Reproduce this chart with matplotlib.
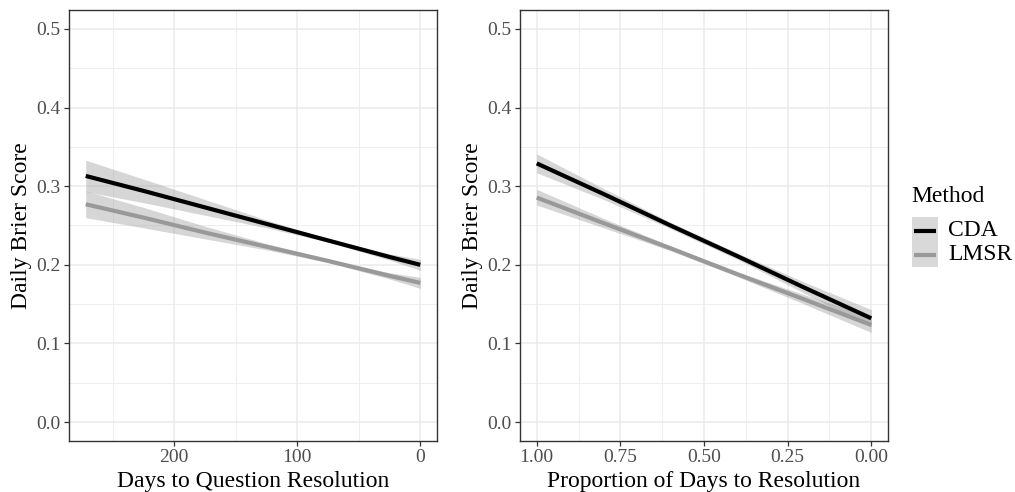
import numpy as np
import matplotlib.pyplot as plt
from matplotlib.patches import Rectangle
from matplotlib.lines import Line2D
from matplotlib.ticker import MultipleLocator

plt.rcParams['font.family'] = ['Liberation Serif', 'DejaVu Serif']

# Panel 1: days to resolution
days = [272, 225, 175, 125, 75, 25, 0]
cda_days_fit = [0.313, 0.294, 0.273, 0.252, 0.231, 0.210, 0.200]
cda_days_hi = [0.333, 0.309, 0.283, 0.257, 0.233, 0.214, 0.207]
cda_days_lo = [0.293, 0.279, 0.263, 0.247, 0.229, 0.206, 0.193]
lmsr_days_fit = [0.277, 0.260, 0.241, 0.223, 0.205, 0.186, 0.177]
lmsr_days_hi = [0.294, 0.273, 0.249, 0.227, 0.207, 0.190, 0.184]
lmsr_days_lo = [0.260, 0.247, 0.233, 0.219, 0.203, 0.182, 0.170]

# Panel 2: proportion of days
prop = [1.0, 0.8, 0.6, 0.4, 0.2, 0.0]
cda_prop_fit = [0.329, 0.290, 0.250, 0.211, 0.171, 0.132]
cda_prop_hi = [0.341, 0.297, 0.254, 0.215, 0.178, 0.143]
cda_prop_lo = [0.317, 0.283, 0.246, 0.207, 0.164, 0.121]
lmsr_prop_fit = [0.2855, 0.253, 0.221, 0.188, 0.156, 0.1235]
lmsr_prop_hi = [0.296, 0.259, 0.224, 0.191, 0.162, 0.134]
lmsr_prop_lo = [0.276, 0.247, 0.218, 0.185, 0.150, 0.114]

methods = ['CDA', 'LMSR']
line_cols = ['black', '#999999']
ribbon_col = '0.6'

W, H = 1015, 492
fig = plt.figure(figsize=(W / 100, H / 100), dpi=100)
ax1 = fig.add_axes([69/W, 51/H, 368/W, 431/H])
ax2 = fig.add_axes([520/W, 51/H, 368/W, 431/H])


def style(ax):
    ax.set_ylim(-0.024, 0.524)
    ax.yaxis.set_major_locator(MultipleLocator(0.1))
    ax.yaxis.set_minor_locator(MultipleLocator(0.05))
    ax.grid(which='major', color='#ebebeb', lw=1.1, zorder=0)
    ax.grid(which='minor', color='#ebebeb', lw=0.6, zorder=0)
    ax.set_axisbelow(True)
    for s in ax.spines.values():
        s.set_color('#333333')
        s.set_linewidth(1.0)
    ax.tick_params(which='major', length=3.5, width=0.9, color='#333333',
                   labelsize=14, labelcolor='#4d4d4d', pad=2.5)
    ax.tick_params(which='minor', length=0)
    ax.yaxis.set_major_formatter(lambda v, p: f'{v:.1f}')
    ax.set_ylabel('Daily Brier Score', fontsize=17, labelpad=3)


# left panel
ax1.fill_between(days, cda_days_lo, cda_days_hi, color=ribbon_col, alpha=0.4, lw=0, zorder=2)
ax1.fill_between(days, lmsr_days_lo, lmsr_days_hi, color=ribbon_col, alpha=0.4, lw=0, zorder=2)
ax1.plot(days, cda_days_fit, color=line_cols[0], lw=3.0, zorder=3, solid_capstyle='butt')
ax1.plot(days, lmsr_days_fit, color=line_cols[1], lw=3.0, zorder=3, solid_capstyle='butt')
ax1.set_xlim(285.6, -13.6)
ax1.xaxis.set_major_locator(MultipleLocator(100))
ax1.xaxis.set_minor_locator(MultipleLocator(50))
style(ax1)
ax1.set_xlabel('Days to Question Resolution', fontsize=17, labelpad=3)

# right panel
ax2.fill_between(prop, cda_prop_lo, cda_prop_hi, color=ribbon_col, alpha=0.4, lw=0, zorder=2)
ax2.fill_between(prop, lmsr_prop_lo, lmsr_prop_hi, color=ribbon_col, alpha=0.4, lw=0, zorder=2)
ax2.plot(prop, cda_prop_fit, color=line_cols[0], lw=3.0, zorder=3, solid_capstyle='butt')
ax2.plot(prop, lmsr_prop_fit, color=line_cols[1], lw=3.0, zorder=3, solid_capstyle='butt')
ax2.set_xlim(1.05, -0.05)
ax2.xaxis.set_major_locator(MultipleLocator(0.25))
ax2.xaxis.set_minor_locator(MultipleLocator(0.125))
ax2.xaxis.set_major_formatter(lambda v, p: f'{v:.2f}')
style(ax2)
ax2.set_xlabel('Proportion of Days to Resolution', fontsize=17, labelpad=3)

# legend (ggplot style: one grey key box, lines inside)
fig.text(911/W, 1 - 196/H, 'Method', fontsize=17, va='center', ha='left')
fig.add_artist(Rectangle((912/W, 1 - 267/H), 26/W, 50/H,
                         transform=fig.transFigure, facecolor='#d9d9d9', edgecolor='none'))
key_y = [230.5, 255.0]
for name, col, y in zip(methods, line_cols, key_y):
    fig.add_artist(Line2D([914/W, 936/W], [1 - y/H, 1 - y/H], color=col, lw=3.0,
                          transform=fig.transFigure, solid_capstyle='butt'))
    fig.text(948/W, 1 - y/H, name, fontsize=17, va='center', ha='left')

fig.savefig('out.png', dpi=100)
